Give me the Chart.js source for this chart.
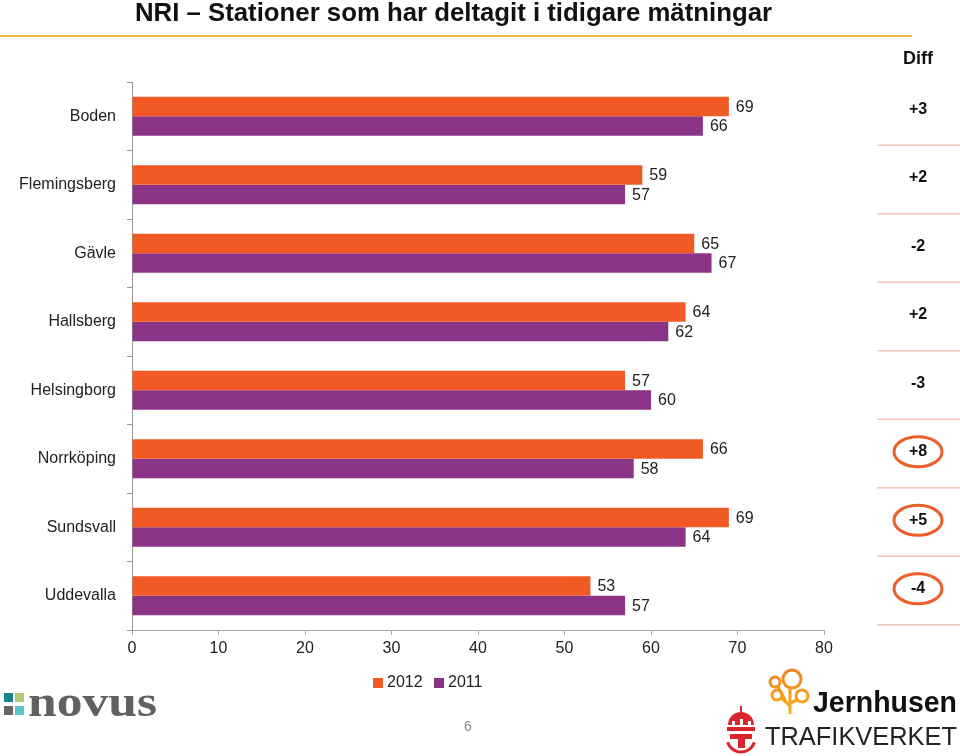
<!DOCTYPE html>
<html>
<head>
<meta charset="utf-8">
<script src="https://cdn.jsdelivr.net/npm/chart.js@4.4.1/dist/chart.umd.min.js"></script>
<style>
  body{margin:0;background:#fff;}
  #wrap{position:relative;width:960px;height:756px;}
</style>
</head>
<body>
<div id="wrap"><canvas id="myChart"></canvas></div>
<script>
// values
const categories=['Boden','Flemingsberg','Gävle','Hallsberg','Helsingborg','Norrköping','Sundsvall','Uddevalla'];
const values2012=[69,59,65,64,57,66,69,53];
const values2011=[66,57,67,62,60,58,64,57];
const seriesNames=['2012','2011'];
const seriesColors=['#f15a24','#8b3387'];
const highlighted=['Norrköping','Sundsvall','Uddevalla'];
const titleText='NRI \u2013 Stationer som har deltagit i tidigare mätningar';

const FONT='"Liberation Sans", Arial, sans-serif';

// draw text squeezed/stretched to a given width
function fitText(ctx,txt,x,y,w){
  const m=ctx.measureText(txt).width;
  ctx.save();
  ctx.translate(x,y);
  ctx.scale(w/m,1);
  ctx.textAlign='left';
  ctx.textBaseline='alphabetic';
  ctx.fillText(txt,0,0);
  ctx.restore();
}

// value labels at bar ends
const barLabels={
  id:'barLabels',
  afterDatasetsDraw(chart){
    const ctx=chart.ctx;
    ctx.save();
    ctx.font='16px '+FONT;
    ctx.fillStyle='#222';
    ctx.textBaseline='middle';
    ctx.textAlign='left';
    chart.data.datasets.forEach((ds,di)=>{
      chart.getDatasetMeta(di).data.forEach((bar,i)=>{
        ctx.fillText(ds.data[i],bar.x+7,bar.y+1);
      });
    });
    ctx.restore();
  }
};

// title, diff column, legend, page number, logos
const decor={
  id:'decor',
  afterDraw(chart){
    const ctx=chart.ctx;
    const y=chart.scales.y;
    ctx.save();
    // title
    ctx.fillStyle='#111';
    ctx.font='bold 26px '+FONT;
    fitText(ctx,titleText,135,21,637);
    ctx.strokeStyle='#e9b949';
    ctx.lineWidth=2;
    ctx.beginPath();ctx.moveTo(0,36);ctx.lineTo(912,36);ctx.stroke();

    // diff column
    ctx.textAlign='center';
    ctx.textBaseline='middle';
    ctx.font='bold 18px '+FONT;
    ctx.fillText('Diff',918,59);
    ctx.font='bold 16px '+FONT;
    categories.forEach((c,i)=>{
      const cy=y.getPixelForValue(i);
      const d=values2012[i]-values2011[i];
      const txt=(d>0?'+':'')+d;
      ctx.fillStyle='#111';
      ctx.fillText(txt,918,cy-7);
      if(highlighted.includes(c)){
        ctx.strokeStyle='#ec5f2a';
        ctx.lineWidth=3;
        ctx.beginPath();
        ctx.ellipse(918,cy-7,24,15,0,0,Math.PI*2);
        ctx.stroke();
      }
      ctx.strokeStyle='#f5c5b5';
      ctx.lineWidth=1.5;
      ctx.beginPath();
      ctx.moveTo(877,cy+29);ctx.lineTo(960,cy+29);ctx.stroke();
    });

    // legend
    ctx.font='16px '+FONT;
    ctx.textAlign='left';
    let lx=373;
    seriesNames.forEach((n,i)=>{
      ctx.fillStyle=seriesColors[i];
      ctx.fillRect(lx,678,10,10);
      ctx.fillStyle='#222';
      ctx.fillText(n,lx+14,683);
      lx+=61;
    });

    // page number
    ctx.fillStyle='#888';
    ctx.font='14px '+FONT;
    ctx.textAlign='center';
    ctx.fillText('6',468,727);

    // novus logo
    const sq=[['#17868a',4,693],['#b3ca78',15,693],['#666',4,706],['#5cc6d0',15,706]];
    sq.forEach(s=>{ctx.fillStyle=s[0];ctx.fillRect(s[1],s[2],9,9);});
    ctx.fillStyle='#616161';
    ctx.font='bold 44px "Liberation Serif", serif';
    fitText(ctx,'novus',28,716,129);

    // jernhusen logo
    const grad=ctx.createLinearGradient(0,668,0,714);
    grad.addColorStop(0,'#f07f1e');grad.addColorStop(1,'#f7b21c');
    ctx.strokeStyle=grad;
    ctx.lineWidth=3;
    [[792,679,9],[775,682,5],[777,695,5],[802,696,6]].forEach(c=>{
      ctx.beginPath();ctx.arc(c[0],c[1],c[2],0,Math.PI*2);ctx.stroke();
    });
    ctx.beginPath();
    ctx.moveTo(790,689);ctx.lineTo(790,714);
    ctx.moveTo(790,703);ctx.lineTo(797,700);
    ctx.moveTo(790,706);ctx.lineTo(781,698);
    ctx.moveTo(786,702);ctx.lineTo(778,687);
    ctx.stroke();
    ctx.fillStyle='#111';
    ctx.font='bold 30px '+FONT;
    fitText(ctx,'Jernhusen',813,712,144);

    // trafikverket logo
    ctx.fillStyle='#d9262c';
    ctx.strokeStyle='#d9262c';
    ctx.lineWidth=2;
    ctx.beginPath();ctx.moveTo(741,706);ctx.lineTo(741,713);ctx.stroke();
    ctx.beginPath();ctx.arc(741,725,13,Math.PI,0);ctx.fill();
    ctx.fillStyle='#fff';
    ctx.fillRect(732,721,3,4);ctx.fillRect(740,719,3,6);ctx.fillRect(748,721,3,4);
    ctx.fillStyle='#d9262c';
    ctx.fillRect(727,727,28,4);
    ctx.fillRect(730,734,22,5);
    ctx.fillRect(738,734,7,14);
    ctx.lineWidth=3;
    ctx.beginPath();ctx.arc(741,738,14,0.1*Math.PI,0.9*Math.PI);ctx.stroke();
    ctx.fillStyle='#222';
    ctx.font='25px '+FONT;
    fitText(ctx,'TRAFIKVERKET',765,745,192);
    ctx.restore();
  }
};

const chart=new Chart(document.getElementById('myChart'),{
  type:'bar',
  data:{
    labels:categories,
    datasets:[
      {label:seriesNames[0],data:values2012,backgroundColor:seriesColors[0],categoryPercentage:0.57,barPercentage:1.0},
      {label:seriesNames[1],data:values2011,backgroundColor:seriesColors[1],categoryPercentage:0.57,barPercentage:1.0}
    ]
  },
  options:{
    indexAxis:'y',
    responsive:true,
    maintainAspectRatio:false,
    animation:false,
    layout:{padding:{top:82,right:136,bottom:96,left:0}},
    plugins:{legend:{display:false},tooltip:{enabled:false}},
    scales:{
      x:{
        min:0,max:80,
        ticks:{stepSize:10,color:'#222',font:{size:16,family:FONT},padding:4},
        grid:{drawOnChartArea:false,tickLength:5,color:'#aaa'},
        border:{color:'#aaa'},
        afterFit(s){s.height=30;}
      },
      y:{
        ticks:{color:'#222',font:{size:16,family:FONT},padding:11},
        grid:{drawOnChartArea:false,tickLength:5,color:'#999',offset:true},
        border:{color:'#999'},
        afterFit(s){s.width=132;}
      }
    }
  },
  plugins:[barLabels,decor]
});
</script>
</body>
</html>
